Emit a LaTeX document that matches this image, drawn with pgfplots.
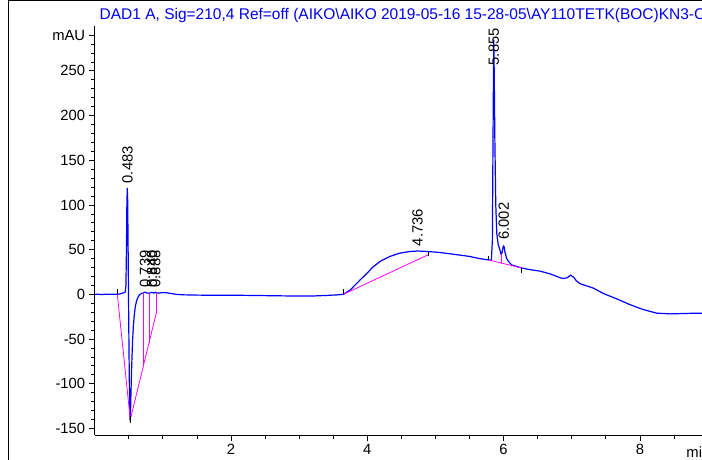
\documentclass[border=0pt]{standalone}
\usepackage{fontspec}
\setmainfont{Liberation Sans}
\usepackage{pgfplots}
\pgfplotsset{compat=1.18}
\definecolor{cblue}{RGB}{0,0,255}
\definecolor{cmag}{RGB}{255,0,255}
\definecolor{tblue}{RGB}{0,0,235}
\newcommand{\fs}{\fontsize{14.8}{17}\selectfont}
\begin{document}
\begin{tikzpicture}
\begin{axis}[
  scale only axis,
  width=607.3pt, height=408.8pt,
  xmin=0, xmax=8.911, ymin=-157.3, ymax=300,
  axis x line*=bottom, axis y line*=left,
  axis line style={line width=0.8pt, -},
  tick align=outside,
  xtick={2,4,6,8},
  minor xtick={0.5,1,1.5,2.5,3,3.5,4.5,5,5.5,6.5,7,7.5,8.5},
  ytick={-150,-100,...,250},
  minor ytick={-140,-130,...,280},
  extra y ticks={290}, extra y tick labels={mAU},
  major tick length=6pt, minor tick length=4pt,
  tick style={black, line width=0.8pt},
  every tick label/.append style={font=\fs},
  /pgf/number format/assume math mode=true,
  clip=false,
]
\addplot[cblue, line width=1.2pt] table {
0 0
0.05 0.3
0.1 -0.3
0.15 0.2
0.2 0
0.25 0.3
0.3 0
0.36 0.3
0.40 1.2
0.43 1.8
0.45 3
0.458 10
0.466 50
0.472 100
0.478 119
0.484 105
0.490 55
0.496 0
0.503 -60
0.510 -110
0.517 -138
0.522 -142
0.527 -128
0.533 -108
0.540 -88
0.548 -68
0.557 -50
0.567 -36
0.58 -24
0.595 -14
0.615 -7
0.64 -2.5
0.665 0
0.69 1.2
0.713 1.5
0.74 2.5
0.77 1.5
0.80 1.2
0.84 2.3
0.865 1.5
0.888 2.3
0.91 1.6
0.95 1.6
1.0 2
1.056 1.8
1.12 1
1.2 0
1.3 -0.5
1.5 -0.8
1.7 -1
2.0 -0.9
2.3 -1.2
2.6 -1.5
2.9 -1.8
3.2 -1.8
3.4 -1.2
3.55 -0.6
3.648 0
3.75 5
3.893 16
4.0 24
4.088 31
4.2 37.5
4.333 42.5
4.47 46
4.627 48
4.736 48.5
4.872 48
5.05 47
5.202 45.5
5.35 44
5.496 42.5
5.65 40
5.775 38.6
5.82 38.5
5.835 60
5.845 180
5.855 285
5.862 250
5.872 170
5.885 100
5.90 68
5.92 56
5.945 50
5.962 45
5.975 46
5.99 52
5.996 54
6.008 53
6.02 47
6.046 40
6.08 36
6.119 33
6.2 31
6.266 29.5
6.4 27.5
6.535 26
6.68 23
6.829 18.6
6.876 17.8
6.93 18.5
6.985 21.5
7.03 19
7.07 15
7.121 12
7.2 10
7.316 7
7.463 1
7.56 -2
7.660 -5
7.855 -11.5
8.050 -17
8.247 -21
8.442 -21.8
8.6 -21.5
8.833 -21
8.92 -21
};
% integration baselines
\addplot[cmag, line width=0.8pt] coordinates {(0.332,0) (0.522,-140) (0.90,-22)};
\addplot[cmag, line width=0.8pt] coordinates {(0.713,1.5) (0.713,-79)};
\addplot[cmag, line width=0.8pt] coordinates {(0.797,1.2) (0.797,-54)};
\addplot[cmag, line width=0.8pt] coordinates {(0.90,1.6) (0.90,-22)};
\addplot[cmag, line width=0.8pt] coordinates {(3.648,0) (4.895,44.4)};
\addplot[cmag, line width=0.8pt] coordinates {(5.775,38.6) (6.266,29.5)};
\addplot[cmag, line width=0.8pt] coordinates {(5.97,45.5) (5.97,35)};
% event ticks
\addplot[black, line width=0.8pt] coordinates {(0.332,0) (0.332,6.5)};
\addplot[black, line width=0.8pt] coordinates {(0.522,-136) (0.522,-144)};
\addplot[black, line width=0.8pt] coordinates {(3.648,0.4) (3.648,6.5)};
\addplot[black, line width=0.8pt] coordinates {(4.895,42.5) (4.895,47.5)};
\addplot[black, line width=0.8pt] coordinates {(5.775,38.6) (5.775,43)};
\addplot[black, line width=0.8pt] coordinates {(6.266,29.5) (6.266,23.5)};
% peak labels
\node[rotate=90, anchor=west, inner sep=0pt, font=\fs] at (axis cs:0.483,124) {0.483};
\node[rotate=90, anchor=west, inner sep=0pt, font=\fs] at (axis cs:0.739,7.5) {0.739};
\node[rotate=90, anchor=west, inner sep=0pt, font=\fs] at (axis cs:0.840,7.5) {0.840};
\node[rotate=90, anchor=west, inner sep=0pt, font=\fs] at (axis cs:0.888,7.5) {0.888};
\node[rotate=90, anchor=west, inner sep=0pt, font=\fs] at (axis cs:4.736,53.7) {4.736};
\node[rotate=90, anchor=west, inner sep=0pt, font=\fs] at (axis cs:5.855,256) {5.855};
\node[rotate=90, anchor=west, inner sep=0pt, font=\fs] at (axis cs:6.002,61) {6.002};
\node[anchor=base west, inner sep=0pt, font=\fs] at (axis cs:8.68,-157.3) [yshift=-23pt] {min};
\coordinate (BL) at (axis cs:0,-157.3);
\end{axis}
\draw[line width=1pt] ([shift={(-86.2pt,-30pt)}]BL) -- ([shift={(-86.2pt,434.5pt)}]BL) -- ([shift={(620pt,434.5pt)}]BL);
\node[anchor=base west, inner sep=0pt, text=tblue, font=\fontsize{15.5}{17}\selectfont] at ([shift={(4.8pt,415pt)}]BL) {DAD1 A, Sig=210,4 Ref=off (AIKO\textbackslash AIKO 2019-05-16 15-28-05\textbackslash AY110TETK(BOC)KN3-C};
\pgfresetboundingbox
\useasboundingbox ([shift={(-94.7pt,-25pt)}]BL) rectangle ([shift={(607.3pt,435pt)}]BL);
\end{tikzpicture}
\end{document}
